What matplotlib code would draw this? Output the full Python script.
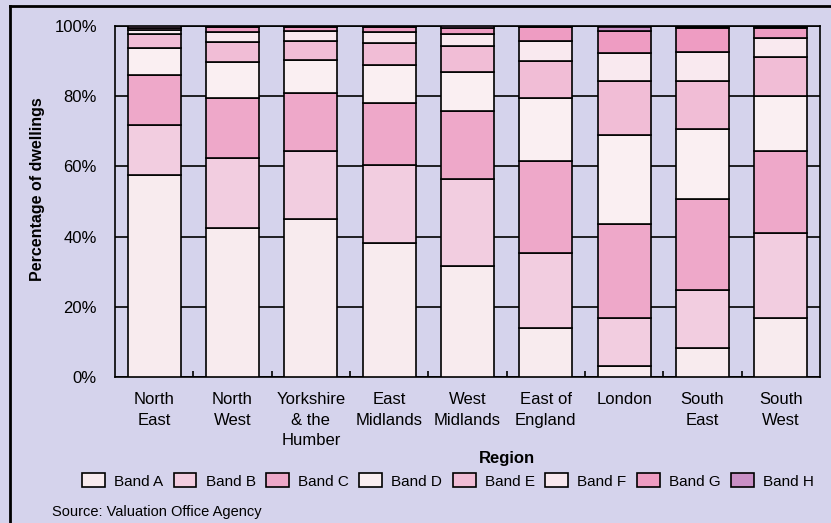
import matplotlib.pyplot as plt
from matplotlib.lines import Line2D
import numpy as np

plt.rcParams['font.family'] = ['Liberation Sans', 'DejaVu Sans']

regions = ["North\nEast", "North\nWest", "Yorkshire\n& the\nHumber", "East\nMidlands",
           "West\nMidlands", "East of\nEngland", "London", "South\nEast", "South\nWest"]
bands = ["Band A", "Band B", "Band C", "Band D", "Band E", "Band F", "Band G", "Band H"]

# share of dwellings (%) in each council tax band, per region
band_a = [57.5, 42.5, 45.0, 38.3, 31.7, 14.0, 3.2, 8.2, 16.7]
band_b = [14.3, 19.8, 19.5, 22.1, 24.7, 21.2, 13.5, 16.6, 24.2]
band_c = [14.2, 17.1, 16.3, 17.7, 19.5, 26.3, 26.8, 25.9, 23.5]
band_d = [7.6, 10.3, 9.5, 10.8, 10.9, 17.9, 25.4, 20.0, 15.7]
band_e = [4.0, 5.7, 5.5, 6.2, 7.5, 10.7, 15.5, 13.6, 11.2]
band_f = [1.3, 2.8, 2.7, 3.3, 3.4, 5.7, 7.8, 8.2, 5.2]
band_g = [0.5, 1.5, 1.3, 1.3, 1.8, 3.8, 6.4, 6.8, 3.0]
band_h = [0.6, 0.3, 0.2, 0.3, 0.5, 0.4, 1.0, 0.4, 0.3]

band_colors = ["#f8ebee", "#f2cde0", "#eea8c9", "#faeff2",
               "#f1bdd6", "#f9e9ef", "#ee9cc2", "#c98fc5"]
bg = "#d5d3ec"

fig = plt.figure(figsize=(8.31, 5.23), dpi=100, facecolor=bg)
ax = fig.add_axes([0.1384, 0.2792, 0.8484, 0.6711])
ax.set_facecolor(bg)

x = np.arange(len(regions))
bottom = np.zeros(len(regions))
for name, vals, col in zip(bands, [band_a, band_b, band_c, band_d, band_e, band_f, band_g, band_h],
                           band_colors):
    ax.bar(x, vals, width=0.68, bottom=bottom, color=col, edgecolor="black",
           linewidth=1.2, label=name, zorder=3)
    bottom += np.array(vals)

ax.set_xlim(-0.5, len(regions) - 0.5)
ax.set_ylim(0, 100)
ax.set_yticks([0, 20, 40, 60, 80, 100])
ax.set_yticklabels(["0%", "20%", "40%", "60%", "80%", "100%"], fontsize=12)
ax.yaxis.grid(True, color="black", linewidth=1.2, zorder=1)
ax.set_axisbelow(True)
ax.tick_params(axis="y", length=0, pad=13)

ax.set_xticks(x)
ax.set_xticklabels(regions, fontsize=12, linespacing=1.45)
ax.set_xticks(np.arange(0.5, len(regions) - 0.5), minor=True)
ax.tick_params(axis="x", which="major", length=0, pad=11)
ax.tick_params(axis="x", which="minor", direction="in", length=4.5, width=1.2)

for s in ax.spines.values():
    s.set_linewidth(1.2)
    s.set_color("black")

ax.set_ylabel("Percentage of dwellings", fontsize=11.5, fontweight="bold")
ax.yaxis.set_label_coords(-0.1, 0.535)
fig.text(0.61, 1 - 458 / 523, "Region", fontsize=12, fontweight="bold",
         ha="center", va="center")

fig.legend(loc="center", bbox_to_anchor=(0.539, 1 - 481 / 523), ncol=8, frameon=False,
           fontsize=11, handlelength=1.5, handleheight=1.0, handletextpad=0.6,
           columnspacing=0.68, borderpad=0)

fig.text(0.063, 1 - 512 / 523, "Source: Valuation Office Agency", fontsize=10.5,
         ha="left", va="center")

# frame edges along the left and top of the figure
fig.add_artist(Line2D([9.5 / 831, 9.5 / 831], [0, 1 - 6 / 523], color="black",
                      linewidth=2, transform=fig.transFigure))
fig.add_artist(Line2D([9.5 / 831, 1], [1 - 6 / 523, 1 - 6 / 523], color="black",
                      linewidth=2, transform=fig.transFigure))

fig.savefig("out.png", dpi=100, facecolor=bg)
